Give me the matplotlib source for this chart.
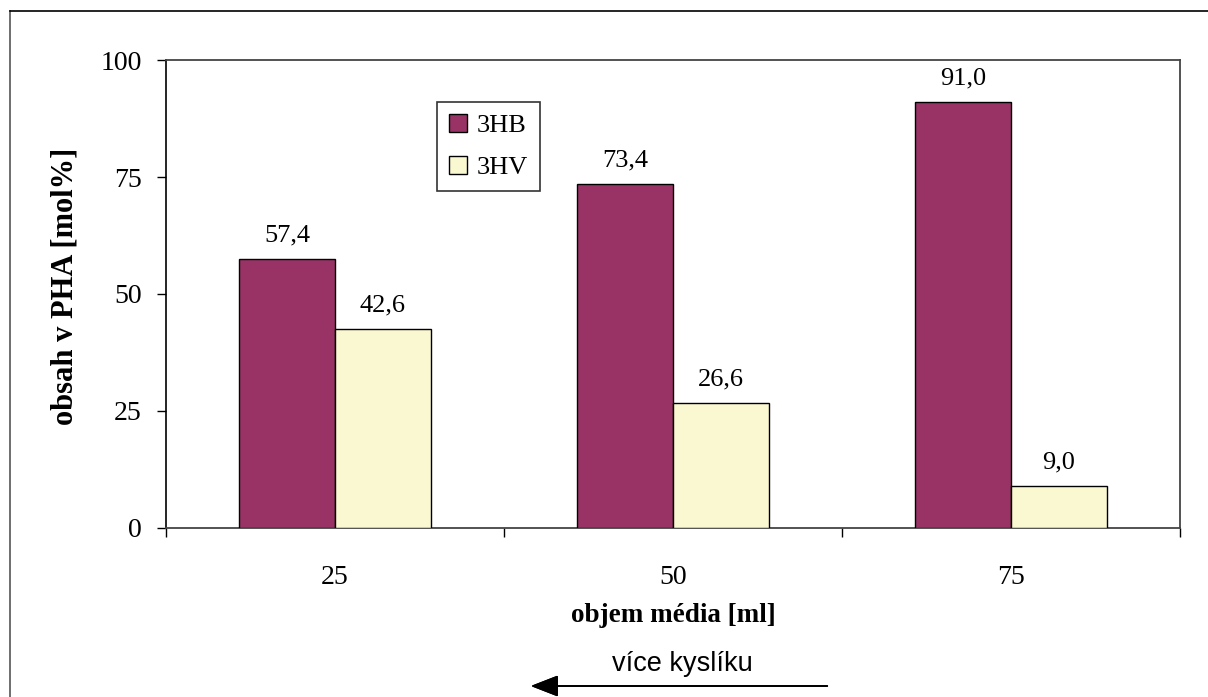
import matplotlib.pyplot as plt
from matplotlib.lines import Line2D

# obsah monomerů v PHA podle objemu média
objem = ["25", "50", "75"]
hb = [57.4, 73.4, 91.0]
hv = [42.6, 26.6, 9.0]

plt.rcParams["font.family"] = ["Liberation Serif", "DejaVu Serif"]
plt.rcParams["font.size"] = 19

fig = plt.figure(figsize=(12.08, 6.97), dpi=100)
ax = fig.add_axes([0.1374, 0.2425, 0.8394, 0.6714])

x = list(range(len(objem)))
w = 0.284
b1 = ax.bar([i - w / 2 for i in x], hb, width=w, color="#993366",
            edgecolor="black", linewidth=1, label="3HB", zorder=3)
b2 = ax.bar([i + w / 2 for i in x], hv, width=w, color="#FAF8D0",
            edgecolor="black", linewidth=1, label="3HV", zorder=3)

for bars, vals in ((b1, hb), (b2, hv)):
    for rect, v in zip(bars, vals):
        ax.annotate(f"{v:.1f}".replace(".", ","),
                    (rect.get_x() + rect.get_width() / 2, v),
                    xytext=(0, 17), textcoords="offset points",
                    ha="center", va="center", fontsize=19)

ax.set_xlim(-0.5, 2.5)
ax.set_ylim(0, 100)
ax.set_yticks([0, 25, 50, 75, 100])
ax.tick_params(axis="y", direction="out", length=6.5, width=1, pad=11,
               labelsize=20)

# dělicí čárky mezi kategoriemi, popisky uprostřed
ax.set_xticks([-0.5, 0.5, 1.5, 2.5])
ax.set_xticklabels([])
ax.tick_params(axis="x", which="major", direction="out", length=6.5, width=1)
ax.set_xticks(x, minor=True)
ax.set_xticklabels(objem, minor=True)
ax.tick_params(axis="x", which="minor", length=0, pad=27, labelsize=20)

for s in ("top", "right", "bottom"):
    ax.spines[s].set_color("#444444")
    ax.spines[s].set_linewidth(1.3)
ax.spines["left"].set_color("black")
ax.spines["left"].set_linewidth(1.2)

ax.set_ylabel("obsah v PHA [mol%]", fontweight="bold", fontsize=22)
ax.yaxis.set_label_coords(-0.085, 0.517)
ax.set_xlabel("objem média [ml]", fontweight="bold", fontsize=19.5)
ax.xaxis.set_label_coords(0.5, -0.161)

leg = fig.legend(handles=[b1, b2], loc="upper left",
                 bbox_to_anchor=(437 / 1208, 1 - 102 / 697),
                 borderaxespad=0, frameon=True, fancybox=False, shadow=False,
                 handlelength=0.7, handleheight=0.7, handletextpad=0.35,
                 labelspacing=0.7, borderpad=0.45, fontsize=19)
leg.get_frame().set_edgecolor("black")
leg.get_frame().set_linewidth(1.2)

# rámeček grafu
fig.add_artist(Line2D([10 / 1208, 10 / 1208], [0, 1 - 11 / 697],
                      transform=fig.transFigure, color="#555555", lw=1.2))
fig.add_artist(Line2D([10 / 1208, 1], [1 - 11 / 697, 1 - 11 / 697],
                      transform=fig.transFigure, color="black", lw=1.2))

fig.text(682 / 1208, 1 - 664 / 697, "více kyslíku", ha="center", va="center",
         family=["Liberation Sans", "DejaVu Sans"], fontsize=19.5)
fig.add_artist(plt.annotate("", xy=(528 / 1208, 1 - 686 / 697),
                            xytext=(830 / 1208, 1 - 686 / 697),
                            xycoords="figure fraction",
                            textcoords="figure fraction",
                            arrowprops=dict(arrowstyle="-|>,head_length=0.9,head_width=0.35",
                                            color="black", lw=1.3)))

fig.savefig("out.png", dpi=100)
